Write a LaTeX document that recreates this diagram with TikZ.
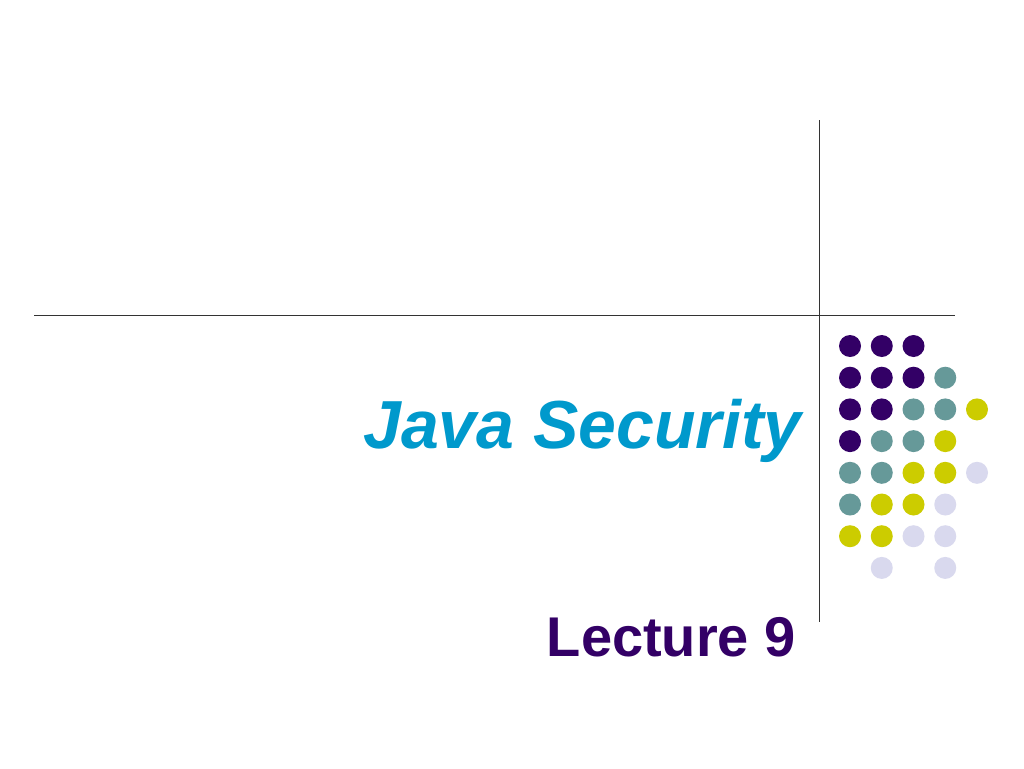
\documentclass[tikz,border=0pt]{standalone}
\usepackage{fontspec}
\setmainfont{Liberation Sans}
\definecolor{dpurple}{HTML}{330066}
\definecolor{dteal}{HTML}{669999}
\definecolor{dyellow}{HTML}{CCCC00}
\definecolor{dlav}{HTML}{D9D9EE}
\definecolor{tblue}{HTML}{0099CC}
\tikzset{
  dot/.style={circle, inner sep=0pt, minimum size=22pt},
  rule/.style={draw=black!80, line width=1pt}
}
\begin{document}
\begin{tikzpicture}[x=1pt,y=-1pt]
\useasboundingbox[fill=white] (0,0) rectangle (1024,768);
\coordinate (hl) at (34,315);
\coordinate (hr) at (955,315);
\coordinate (vt) at (819,120);
\coordinate (vb) at (819,622);
\draw[rule] (hl) -- (hr);
\draw[rule] (vt) -- (vb);
\node[anchor=base east, text=tblue, font=\fontsize{68}{74}\selectfont\bfseries\itshape, inner sep=0pt] (title) at (802,448) {Java Security};
\node[anchor=base east, text=dpurple, font=\fontsize{56}{62}\selectfont\bfseries, inner sep=0pt] (sub) at (796,656) {Lecture 9};
% dots
\foreach \c/\r/\col [count=\i] in {
 1/1/dpurple,2/1/dpurple,3/1/dpurple,
 1/2/dpurple,2/2/dpurple,3/2/dpurple,4/2/dteal,
 1/3/dpurple,2/3/dpurple,3/3/dteal,4/3/dteal,5/3/dyellow,
 1/4/dpurple,2/4/dteal,3/4/dteal,4/4/dyellow,
 1/5/dteal,2/5/dteal,3/5/dyellow,4/5/dyellow,5/5/dlav,
 1/6/dteal,2/6/dyellow,3/6/dyellow,4/6/dlav,
 1/7/dyellow,2/7/dyellow,3/7/dlav,4/7/dlav,
 2/8/dlav,4/8/dlav}
 \node[dot, fill=\col] (d\i) at ({850+31.75*(\c-1)},{346+31.7*(\r-1)}) {};
\end{tikzpicture}
\end{document}
